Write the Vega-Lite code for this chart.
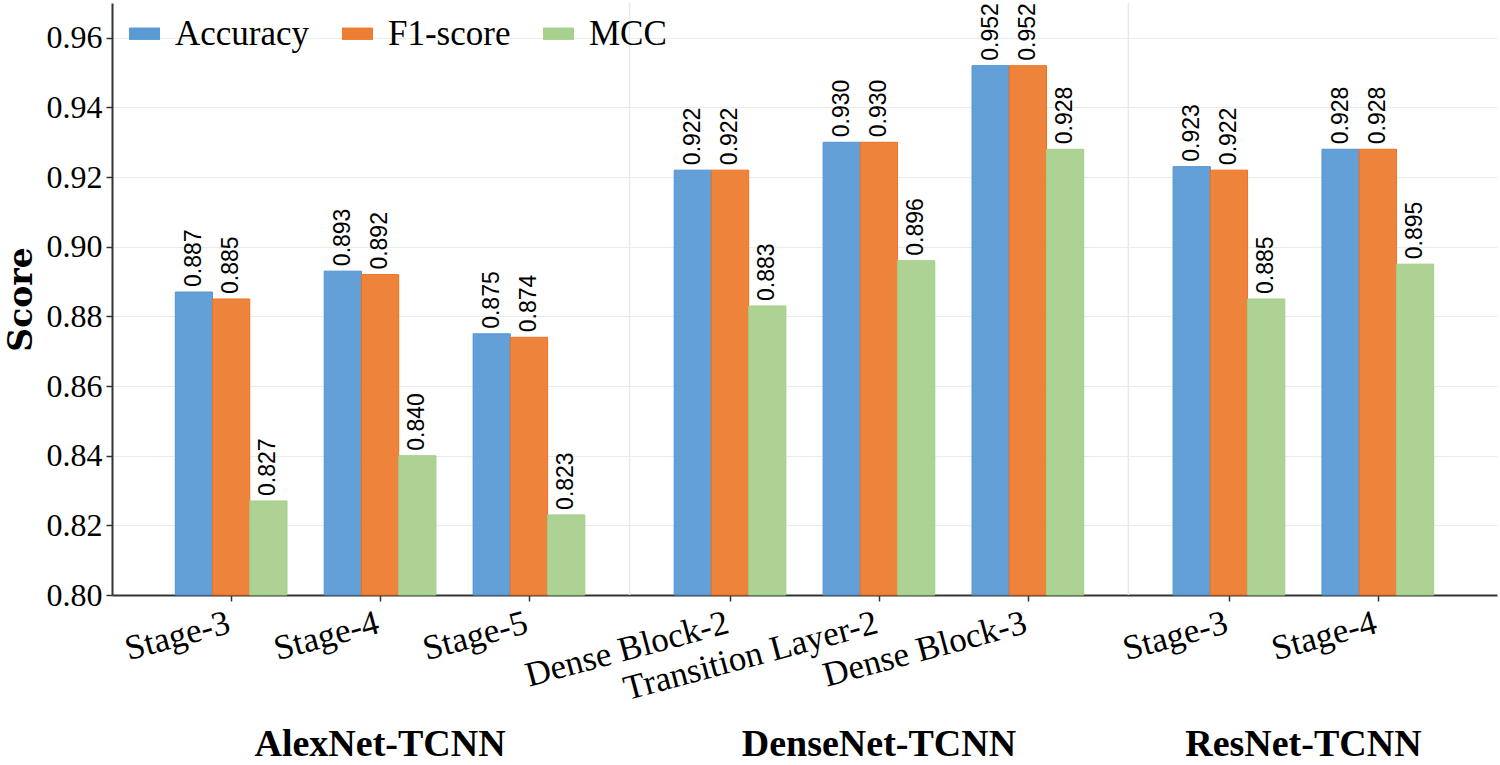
{
  "$schema": "https://vega.github.io/schema/vega-lite/v6.json",
  "width": 1385,
  "height": 592,
  "autosize": {"type": "none"},
  "padding": {"left": 112, "top": 3, "right": 3, "bottom": 170},
  "config": {
    "view": {"stroke": null},
    "font": "Liberation Serif"
  },
  "data": {
    "values": [
      {"model": "AlexNet-TCNN", "layer": "Stage-3", "step": 0, "metric": "Accuracy", "score": 0.887},
      {"model": "AlexNet-TCNN", "layer": "Stage-3", "step": 0, "metric": "F1-score", "score": 0.885},
      {"model": "AlexNet-TCNN", "layer": "Stage-3", "step": 0, "metric": "MCC", "score": 0.827},
      {"model": "AlexNet-TCNN", "layer": "Stage-4", "step": 1, "metric": "Accuracy", "score": 0.893},
      {"model": "AlexNet-TCNN", "layer": "Stage-4", "step": 1, "metric": "F1-score", "score": 0.892},
      {"model": "AlexNet-TCNN", "layer": "Stage-4", "step": 1, "metric": "MCC", "score": 0.840},
      {"model": "AlexNet-TCNN", "layer": "Stage-5", "step": 2, "metric": "Accuracy", "score": 0.875},
      {"model": "AlexNet-TCNN", "layer": "Stage-5", "step": 2, "metric": "F1-score", "score": 0.874},
      {"model": "AlexNet-TCNN", "layer": "Stage-5", "step": 2, "metric": "MCC", "score": 0.823},
      {"model": "DenseNet-TCNN", "layer": "Dense Block-2", "step": 0, "metric": "Accuracy", "score": 0.922},
      {"model": "DenseNet-TCNN", "layer": "Dense Block-2", "step": 0, "metric": "F1-score", "score": 0.922},
      {"model": "DenseNet-TCNN", "layer": "Dense Block-2", "step": 0, "metric": "MCC", "score": 0.883},
      {"model": "DenseNet-TCNN", "layer": "Transition Layer-2", "step": 1, "metric": "Accuracy", "score": 0.930},
      {"model": "DenseNet-TCNN", "layer": "Transition Layer-2", "step": 1, "metric": "F1-score", "score": 0.930},
      {"model": "DenseNet-TCNN", "layer": "Transition Layer-2", "step": 1, "metric": "MCC", "score": 0.896},
      {"model": "DenseNet-TCNN", "layer": "Dense Block-3", "step": 2, "metric": "Accuracy", "score": 0.952},
      {"model": "DenseNet-TCNN", "layer": "Dense Block-3", "step": 2, "metric": "F1-score", "score": 0.952},
      {"model": "DenseNet-TCNN", "layer": "Dense Block-3", "step": 2, "metric": "MCC", "score": 0.928},
      {"model": "ResNet-TCNN", "layer": "Stage-3", "step": 0, "metric": "Accuracy", "score": 0.923},
      {"model": "ResNet-TCNN", "layer": "Stage-3", "step": 0, "metric": "F1-score", "score": 0.922},
      {"model": "ResNet-TCNN", "layer": "Stage-3", "step": 0, "metric": "MCC", "score": 0.885},
      {"model": "ResNet-TCNN", "layer": "Stage-4", "step": 1, "metric": "Accuracy", "score": 0.928},
      {"model": "ResNet-TCNN", "layer": "Stage-4", "step": 1, "metric": "F1-score", "score": 0.928},
      {"model": "ResNet-TCNN", "layer": "Stage-4", "step": 1, "metric": "MCC", "score": 0.895}
    ]
  },
  "transform": [
    {"calculate": "(datum.model === 'AlexNet-TCNN' ? 0 : datum.model === 'DenseNet-TCNN' ? 3.35 : 6.7) + datum.step", "as": "pos"},
    {"calculate": "datum.pos + (datum.metric === 'Accuracy' ? -0.25 : datum.metric === 'F1-score' ? 0 : 0.25)", "as": "mid"},
    {"calculate": "datum.mid - 0.125", "as": "left"},
    {"calculate": "datum.mid + 0.125", "as": "right"}
  ],
  "layer": [
    {
      "data": {"values": [{}]},
      "mark": {"type": "rule", "color": "#e8e8e8", "strokeWidth": 1.5},
      "encoding": {"x": {"datum": 2.675, "type": "quantitative", "title": null}}
    },
    {
      "data": {"values": [{}]},
      "mark": {"type": "rule", "color": "#e8e8e8", "strokeWidth": 1.5},
      "encoding": {"x": {"datum": 6.025, "type": "quantitative", "title": null}}
    },
    {
      "mark": {"type": "bar", "strokeWidth": 1, "fillOpacity": 0.95},
      "encoding": {
        "x": {
          "field": "left",
          "type": "quantitative",
          "title": null,
          "scale": {"domain": [-0.8, 8.5], "nice": false, "zero": false},
          "axis": {
            "values": [0, 1, 2, 3.35, 4.35, 5.35, 6.7, 7.7],
            "labelExpr": "datum.value == 0 ? 'Stage-3' : datum.value == 1 ? 'Stage-4' : datum.value == 2 ? 'Stage-5' : datum.value == 3.35 ? 'Dense Block-2' : datum.value == 4.35 ? 'Transition Layer-2' : datum.value == 5.35 ? 'Dense Block-3' : datum.value == 6.7 ? 'Stage-3' : 'Stage-4'",
            "grid": false,
            "labelAngle": -15,
            "labelAlign": "right",
            "labelBaseline": "top",
            "labelFont": "Liberation Serif",
            "labelFontSize": 35,
            "labelColor": "#000000",
            "labelPadding": 4,
            "labelOffset": -7,
            "labelLimit": 0,
            "labelOverlap": false,
            "labelFlush": false,
            "tickSize": 6,
            "tickColor": "#333333",
            "tickWidth": 1.5,
            "domainColor": "#333333",
            "domainWidth": 2
          }
        },
        "x2": {"field": "right"},
        "y": {
          "field": "score",
          "type": "quantitative",
          "title": "Score",
          "scale": {"domain": [0.8, 0.97], "nice": false, "zero": false},
          "axis": {
            "values": [0.8, 0.82, 0.84, 0.86, 0.88, 0.9, 0.92, 0.94, 0.96],
            "format": ".2f",
            "grid": true,
            "gridColor": "#ebebeb",
            "gridWidth": 1,
            "labelFont": "Liberation Serif",
            "labelFontSize": 32,
            "labelColor": "#000000",
            "labelPadding": 4,
            "tickSize": 6,
            "tickColor": "#333333",
            "tickWidth": 1.5,
            "domainColor": "#333333",
            "domainWidth": 2,
            "titleFont": "DejaVu Serif",
            "titleFontWeight": "bold",
            "titleFontSize": 33,
            "titleColor": "#000000",
            "titlePadding": 8
          }
        },
        "y2": {"datum": 0.8},
        "color": {
          "field": "metric",
          "type": "nominal",
          "scale": {"domain": ["Accuracy", "F1-score", "MCC"], "range": ["#5b9bd5", "#ed7d31", "#a9d18e"]},
          "legend": {
            "title": null,
            "orient": "none",
            "legendX": 15,
            "legendY": 13,
            "direction": "horizontal",
            "symbolType": "M-1,-0.4H1V0.4H-1Z",
            "symbolSize": 961,
            "symbolStrokeWidth": 0,
            "labelFont": "Liberation Serif",
            "labelFontSize": 35,
            "labelColor": "#000000",
            "labelOffset": 13,
            "columnPadding": 30,
            "padding": 0
          }
        },
        "stroke": {
          "field": "metric",
          "type": "nominal",
          "scale": {"domain": ["Accuracy", "F1-score", "MCC"], "range": ["#4f93d2", "#f07020", "#a3cf86"]},
          "legend": null
        }
      }
    },
    {
      "mark": {"type": "text", "angle": 270, "align": "left", "baseline": "middle", "dx": 5, "font": "Liberation Sans", "fontSize": 23, "color": "#000000"},
      "encoding": {
        "x": {"field": "mid", "type": "quantitative"},
        "y": {"field": "score", "type": "quantitative"},
        "text": {"field": "score", "type": "quantitative", "format": ".3f"}
      }
    },
    {
      "transform": [{"aggregate": [{"op": "mean", "field": "pos", "as": "center"}], "groupby": ["model"]}],
      "mark": {"type": "text", "align": "center", "baseline": "alphabetic", "dy": 161, "font": "Liberation Serif", "fontWeight": "bold", "fontSize": 38, "color": "#000000"},
      "encoding": {
        "x": {"field": "center", "type": "quantitative"},
        "y": {"datum": 0.8, "type": "quantitative"},
        "text": {"field": "model"}
      }
    }
  ]
}
